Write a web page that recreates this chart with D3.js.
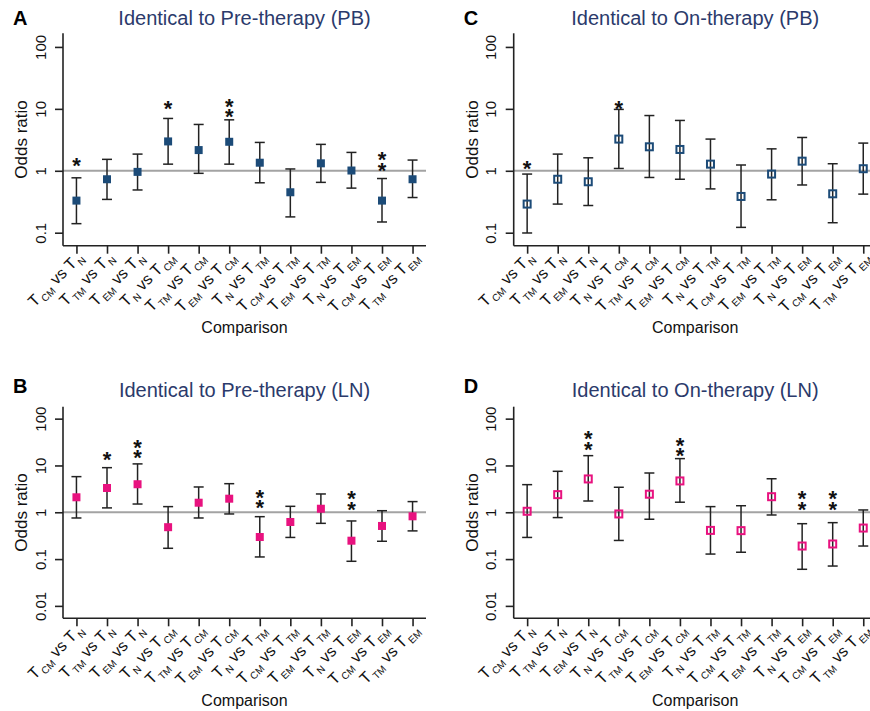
<!DOCTYPE html>
<html>
<head>
<meta charset="utf-8">
<script src="https://cdn.jsdelivr.net/npm/d3@7/dist/d3.min.js"></script>
<style>
  body { margin: 0; background: #fff; }
  svg { display: block; font-family: "Liberation Sans", Arial, sans-serif; }
</style>
</head>
<body>
<svg id="chart" width="870" height="711"></svg>
<script>
// Pairwise comparisons: [left group, right group]
const comparisons = [
  ["CM", "N"], ["TM", "N"], ["EM", "N"],
  ["N", "CM"], ["TM", "CM"], ["EM", "CM"],
  ["N", "TM"], ["CM", "TM"], ["EM", "TM"],
  ["N", "EM"], ["CM", "EM"], ["TM", "EM"]
];

// A: identical to pre-therapy, peripheral blood
const orA  = [0.33, 0.73, 0.96, 2.98, 2.16, 2.94, 1.35, 0.45, 1.32, 1.01, 0.33, 0.73];
const loA  = [0.14, 0.345, 0.49, 1.28, 0.91, 1.28, 0.64, 0.18, 0.65, 0.525, 0.149, 0.37];
const hiA  = [0.77, 1.53, 1.86, 7.0, 5.6, 6.65, 2.87, 1.07, 2.67, 1.98, 0.75, 1.49];
const sigA = [1, 0, 0, 1, 0, 2, 0, 0, 0, 0, 2, 0];
const starA = [1.49, null, null, 12.4, null, 8.9, null, null, null, null, 1.24, null];

// C: identical to on-therapy, peripheral blood
const orC  = [0.29, 0.73, 0.665, 3.25, 2.44, 2.21, 1.28, 0.385, 0.885, 1.43, 0.425, 1.08];
const loC  = [0.099, 0.29, 0.275, 1.09, 0.78, 0.73, 0.51, 0.122, 0.34, 0.59, 0.145, 0.42];
const hiC  = [0.885, 1.86, 1.62, 9.8, 7.8, 6.5, 3.25, 1.24, 2.26, 3.45, 1.3, 2.8];
const sigC = [1, 0, 0, 1, 0, 0, 0, 0, 0, 0, 0, 0];
const starC = [1.33, null, null, 12.4, null, null, null, null, null, null, null, null];

// B: identical to pre-therapy, lymph node
const orB  = [2.09, 3.3, 3.97, 0.48, 1.6, 1.95, 0.296, 0.62, 1.19, 0.247, 0.51, 0.82];
const loB  = [0.755, 1.24, 1.5, 0.17, 0.755, 0.92, 0.111, 0.29, 0.58, 0.0897, 0.24, 0.4];
const hiB  = [5.77, 8.97, 10.8, 1.32, 3.47, 4.08, 0.805, 1.34, 2.46, 0.652, 1.08, 1.69];
const sigB = [0, 1, 2, 0, 0, 0, 2, 0, 0, 2, 0, 0];
const starB = [null, 16.8, 18.8, null, null, null, 1.6, null, null, 1.48, null, null];

// D: identical to on-therapy, lymph node
const orD  = [1.05, 2.38, 5.15, 0.92, 2.43, 4.67, 0.41, 0.405, 2.15, 0.19, 0.21, 0.46];
const loD  = [0.29, 0.77, 1.74, 0.25, 0.71, 1.64, 0.128, 0.14, 0.875, 0.0605, 0.071, 0.19];
const hiD  = [3.89, 7.5, 16.2, 3.42, 6.9, 14.0, 1.32, 1.38, 5.2, 0.57, 0.6, 1.12];
const sigD = [0, 0, 2, 0, 0, 2, 0, 0, 0, 2, 2, 0];
const starD = [null, null, 28.4, null, null, 20.4, null, null, null, 1.5, 1.5, null];

const yTicksTop = [0.1, 1, 10, 100];
const yTicksBottom = [0.01, 0.1, 1, 10, 100];

const NAVY = "#1c4b78";
const PINK = "#e8127f";
const TITLE = "#2b3a6b";

const panels = [
  { letter: "A", title: "Identical to Pre-therapy (PB)", or: orA, lo: loA, hi: hiA, sig: sigA, star: starA, color: NAVY, open: false, col: 0, row: 0 },
  { letter: "C", title: "Identical to On-therapy (PB)",  or: orC, lo: loC, hi: hiC, sig: sigC, star: starC, color: NAVY, open: true,  col: 1, row: 0 },
  { letter: "B", title: "Identical to Pre-therapy (LN)", or: orB, lo: loB, hi: hiB, sig: sigB, star: starB, color: PINK, open: false, col: 0, row: 1 },
  { letter: "D", title: "Identical to On-therapy (LN)",  or: orD, lo: loD, hi: hiD, sig: sigD, star: starD, color: PINK, open: true,  col: 1, row: 1 }
];

// Panel frame geometry
const colX = [63, 513.7];
const plotW = 363;
const rows = [
  { top: 33.3, bottom: 245.7, domain: [0.0617, 166], ticks: yTicksTop, titleY: 24.5, letterY: 25 },
  { top: 406.7, bottom: 618.3, domain: [0.00543, 180], ticks: yTicksBottom, titleY: 396.5, letterY: 393 }
];

const svg = d3.select("#chart");
const AXIS = "#222";

panels.forEach(p => {
  const r = rows[p.row];
  const x0 = colX[p.col];
  const g = svg.append("g");

  const x = d3.scalePoint()
    .domain(d3.range(comparisons.length))
    .range([x0, x0 + plotW])
    .padding(0.44);
  const y = d3.scaleLog().domain(r.domain).range([r.bottom, r.top]);

  // Panel letter and title
  g.append("text").attr("x", x0 - 50).attr("y", r.letterY)
    .attr("font-size", 20).attr("font-weight", "bold").attr("fill", "#000")
    .text(p.letter);
  g.append("text").attr("x", x0 + plotW / 2).attr("y", r.titleY)
    .attr("text-anchor", "middle").attr("font-size", 20).attr("fill", TITLE)
    .text(p.title);

  // Reference line at odds ratio = 1
  g.append("line")
    .attr("x1", x0).attr("x2", x0 + plotW)
    .attr("y1", y(1)).attr("y2", y(1))
    .attr("stroke", "#a3a3a3").attr("stroke-width", 2);

  // Y axis
  const yAxis = d3.axisLeft(y).tickValues(r.ticks).tickSize(8).tickFormat(d => String(d));
  const ya = g.append("g").attr("transform", `translate(${x0},0)`).call(yAxis);
  ya.select(".domain").attr("d", `M0,${r.top}V${r.bottom}`).attr("stroke", AXIS).attr("stroke-width", 1.6);
  ya.selectAll(".tick line").attr("stroke", AXIS).attr("stroke-width", 1.6);
  ya.selectAll(".tick text")
    .attr("x", null).attr("dy", null)
    .attr("transform", "translate(-17.5,0) rotate(-90)")
    .attr("text-anchor", "middle")
    .attr("font-size", 15).attr("font-family", "Liberation Sans, Arial, sans-serif")
    .attr("fill", "#111");

  // X axis
  const xAxis = d3.axisBottom(x).tickSize(8).tickFormat("");
  const xa = g.append("g").attr("transform", `translate(0,${r.bottom})`).call(xAxis);
  xa.select(".domain").attr("d", `M${x0},0H${x0 + plotW}`).attr("stroke", AXIS).attr("stroke-width", 1.6);
  xa.selectAll(".tick line").attr("stroke", AXIS).attr("stroke-width", 1.6);

  // Rotated comparison labels with subscripts
  comparisons.forEach((c, i) => {
    const t = g.append("text")
      .attr("transform", `translate(${x(i) + 7.5},${r.bottom + 12.5}) rotate(-45)`)
      .attr("text-anchor", "end").attr("font-size", 16).attr("fill", "#111");
    t.append("tspan").text("T");
    t.append("tspan").attr("font-size", 10).attr("dx", 1.5).attr("dy", 4).text(c[0]);
    t.append("tspan").attr("dy", -4).text(" vs T");
    t.append("tspan").attr("font-size", 10).attr("dx", 1.5).attr("dy", 4).text(c[1]);
  });

  // Axis titles
  g.append("text")
    .attr("transform", `translate(${x0 - 36},${(r.top + r.bottom) / 2}) rotate(-90)`)
    .attr("text-anchor", "middle").attr("font-size", 17).attr("fill", "#111")
    .text("Odds ratio");
  g.append("text")
    .attr("x", x0 + plotW / 2).attr("y", r.bottom + 87.5)
    .attr("text-anchor", "middle").attr("font-size", 16).attr("fill", "#111")
    .text("Comparison");

  const idx = d3.range(comparisons.length);

  // Confidence intervals
  const eb = g.append("g").attr("stroke", "#222").attr("stroke-width", 1.5);
  eb.selectAll(".v").data(idx).join("line")
    .attr("x1", i => x(i)).attr("x2", i => x(i))
    .attr("y1", i => y(p.lo[i])).attr("y2", i => y(p.hi[i]));
  eb.selectAll(".cl").data(idx).join("line").attr("class", "cl")
    .attr("x1", i => x(i) - 5).attr("x2", i => x(i) + 5)
    .attr("y1", i => y(p.lo[i])).attr("y2", i => y(p.lo[i]));
  eb.selectAll(".ch").data(idx).join("line").attr("class", "ch")
    .attr("x1", i => x(i) - 5).attr("x2", i => x(i) + 5)
    .attr("y1", i => y(p.hi[i])).attr("y2", i => y(p.hi[i]));

  // Point estimates
  const s = p.open ? 7 : 8;
  g.selectAll(".pt").data(idx).join("rect").attr("class", "pt")
    .attr("x", i => x(i) - s / 2).attr("y", i => y(p.or[i]) - s / 2)
    .attr("width", s).attr("height", s)
    .attr("fill", p.open ? "none" : p.color)
    .attr("stroke", p.open ? p.color : "none")
    .attr("stroke-width", p.open ? 2 : 0);

  // Significance asterisks, stacked vertically in one text element
  idx.filter(i => p.sig[i] > 0).forEach(i => {
    const base = y(p.star[i]) + 12.5;
    const t = g.append("text")
      .attr("text-anchor", "middle").attr("font-size", 22)
      .attr("font-weight", "bold").attr("fill", "#111");
    for (let k = 0; k < p.sig[i]; k++) {
      t.append("tspan").attr("x", x(i)).attr("y", base - k * 10.5).text("*");
    }
  });
});
</script>
</body>
</html>
